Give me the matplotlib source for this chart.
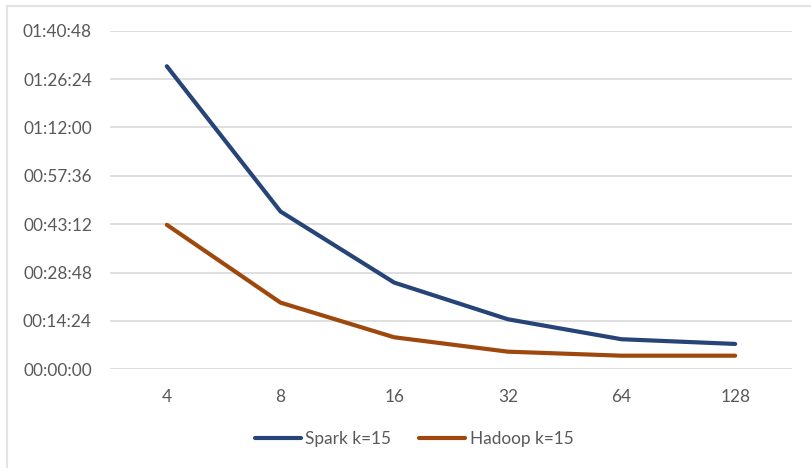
import matplotlib.pyplot as plt
from matplotlib.ticker import FuncFormatter, MultipleLocator
from matplotlib.patches import Rectangle

# Number of nodes (categories) and run times in seconds
nodes = ["4", "8", "16", "32", "64", "128"]
spark_secs = [5413, 2819, 1549, 894, 537, 453]
hadoop_secs = [2581, 1191, 572, 315, 243, 243]

SPARK_COLOR = "#264478"
HADOOP_COLOR = "#9E480E"
TEXT_COLOR = "#595959"
GRID_COLOR = "#D9D9D9"

plt.rcParams["font.family"] = ["Lato", "DejaVu Sans"]


def hms(v, pos=None):
    v = int(round(v))
    return f"{v // 3600:02d}:{(v % 3600) // 60:02d}:{v % 60:02d}"


fig = plt.figure(figsize=(8.11, 4.68), dpi=100)
ax = fig.add_axes([110 / 811, 1 - 369.3 / 468, 682 / 811, 338.6 / 468])

x = range(len(nodes))
ax.plot(x, spark_secs, color=SPARK_COLOR, lw=3, solid_capstyle="round",
        solid_joinstyle="round", label="Spark k=15", zorder=3)
ax.plot(x, hadoop_secs, color=HADOOP_COLOR, lw=3, solid_capstyle="round",
        solid_joinstyle="round", label="Hadoop k=15", zorder=3)

# Axes: category x, time y in 14:24 steps
ax.set_xlim(-0.5, len(nodes) - 0.5)
ax.set_ylim(0, 6048)
ax.yaxis.set_major_locator(MultipleLocator(864))
ax.yaxis.set_major_formatter(FuncFormatter(hms))
ax.set_xticks(list(x))
ax.set_xticklabels(nodes)

ax.grid(axis="y", color=GRID_COLOR, lw=1.2)
ax.set_axisbelow(True)
for s in ax.spines.values():
    s.set_visible(False)
ax.tick_params(axis="both", length=0, labelsize=12.4, labelcolor=TEXT_COLOR)
ax.tick_params(axis="x", pad=14)
ax.tick_params(axis="y", pad=13)

# Legend below the plot
fig.legend(loc="center", bbox_to_anchor=(414 / 811, 1 - 439 / 468), ncol=2,
           frameon=False, fontsize=12.4, labelcolor=TEXT_COLOR,
           handlelength=2.7, handletextpad=0.25, columnspacing=1.6)

# Light chart-area border
fig.patches.append(Rectangle((7 / 811, -0.1), 1.0, 1 - 6 / 468 + 0.1,
                             transform=fig.transFigure, fill=False,
                             edgecolor="#E3E3E3", lw=1.5))

fig.savefig("out.png", dpi=100, facecolor="white")
